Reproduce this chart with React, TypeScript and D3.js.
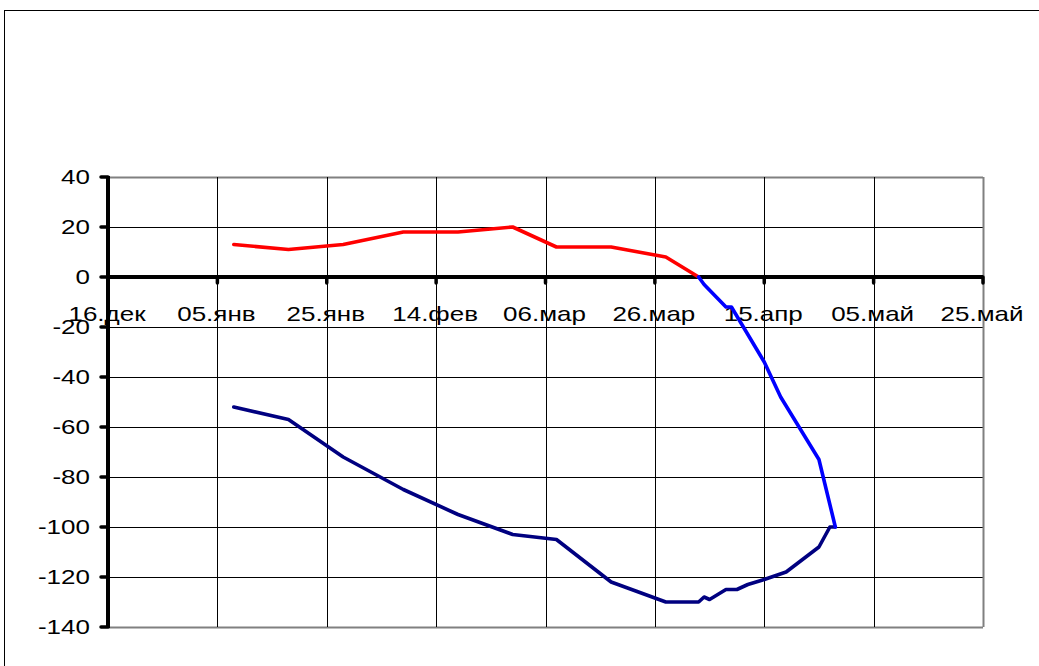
import React from "react";
import * as d3 from "d3";

// ---- data ----
const redDates = ["2005-01-08","2005-01-18","2005-01-28","2005-02-08","2005-02-18","2005-02-28","2005-03-08","2005-03-18","2005-03-28","2005-04-03"];
const redValues = [13, 11, 13, 18, 18, 20, 12, 12, 8, 0];

const blueDates = ["2005-04-03","2005-04-04","2005-04-08","2005-04-09","2005-04-12","2005-04-15","2005-04-18","2005-04-25","2005-04-26","2005-04-28"];
const blueValues = [0, -3, -12, -12, -23, -34, -48, -73, -82, -100];

const navyDates = ["2005-01-08","2005-01-18","2005-01-28","2005-02-08","2005-02-18","2005-02-28","2005-03-08","2005-03-18","2005-03-28","2005-04-03","2005-04-04","2005-04-05","2005-04-08","2005-04-10","2005-04-12","2005-04-15","2005-04-19","2005-04-25","2005-04-27","2005-04-28"];
const navyValues = [-52, -57, -72, -85, -95, -103, -105, -122, -130, -130, -128, -129, -125, -125, -123, -121, -118, -108, -100, -100];

const xStart = "2004-12-16";
const xEnd = "2005-05-25";
const xTickStepDays = 20;
const xTickLabels = ["16.дек","05.янв","25.янв","14.фев","06.мар","26.мар","15.апр","05.май","25.май"];
const yTicks = [40, 20, 0, -20, -40, -60, -80, -100, -120, -140];

const parse = (s: string) => {
  const [y, m, d] = s.split("-").map(Number);
  return new Date(Date.UTC(y, m - 1, d));
};

export default function App() {
  const W = 1039, H = 666;
  const left = 108, right = 983, top = 177, bottom = 627;
  const x = d3.scaleUtc().domain([parse(xStart), parse(xEnd)]).range([left, right]);
  const y = d3.scaleLinear().domain([-140, 40]).range([bottom, top]);
  const xTicks = d3.range(0, xTickLabels.length).map(i => d3.utcDay.offset(parse(xStart), i * xTickStepDays));

  const line = d3.line<[Date, number]>().x(d => x(d[0])).y(d => y(d[1]));
  const mk = (ds: string[], vs: number[]) => line(ds.map((s, i) => [parse(s), vs[i]] as [Date, number])) || "";

  const sx = 1.3;
  const font = "Arial, 'Liberation Sans', sans-serif";
  const fs = 20;
  const y0 = y(0);
  const lw = 3.6;

  return (
    <svg width={W} height={H} style={{ position: "absolute", left: 0, top: 0, background: "#fff" }}>
      <rect x={0} y={0} width={W} height={H} fill="#fff" />
      <rect x={4.5} y={10.5} width={1060} height={700} fill="none" stroke="#000" strokeWidth={1} />
      {/* horizontal gridlines */}
      {yTicks.map(t => (
        <line key={"h" + t} x1={left} x2={right} y1={Math.round(y(t)) + 0.5} y2={Math.round(y(t)) + 0.5}
          stroke={t === 40 || t === -140 ? "#808080" : "#000"} strokeWidth={t === 40 || t === -140 ? 2 : 1} />
      ))}
      {/* vertical gridlines */}
      {xTicks.map((d, i) => (
        <line key={"v" + i} x1={Math.round(x(d)) + 0.5} x2={Math.round(x(d)) + 0.5} y1={top} y2={bottom}
          stroke={i === xTicks.length - 1 ? "#808080" : "#000"} strokeWidth={i === xTicks.length - 1 ? 2 : 1} />
      ))}
      {/* y axis */}
      <line x1={left} x2={left} y1={top - 1} y2={bottom + 1} stroke="#000" strokeWidth={4} />
      {yTicks.map(t => (
        <line key={"yt" + t} x1={left - 7} x2={left} y1={y(t)} y2={y(t)} stroke="#000" strokeWidth={3.5} strokeLinecap="round" />
      ))}
      {yTicks.map(t => (
        <text key={"yl" + t} transform={`translate(90,${y(t) + 7}) scale(${sx},1)`} textAnchor="end"
          fontFamily={font} fontSize={fs} fill="#000">{t}</text>
      ))}
      {/* x axis at zero */}
      <line x1={left} x2={right} y1={y0} y2={y0} stroke="#000" strokeWidth={4} />
      {xTicks.map((d, i) => (
        <line key={"xt" + i} x1={x(d)} x2={x(d)} y1={y0} y2={y0 + 6} stroke="#000" strokeWidth={3.5} strokeLinecap="round" />
      ))}
      {xTicks.map((d, i) => (
        <text key={"xl" + i} transform={`translate(${x(d) - 1},${y0 + 44}) scale(${sx},1)`} textAnchor="middle"
          fontFamily={font} fontSize={fs} fill="#000">{xTickLabels[i]}</text>
      ))}
      {/* series */}
      <path d={mk(navyDates, navyValues)} fill="none" stroke="#000080" strokeWidth={lw} strokeLinejoin="round" strokeLinecap="round" />
      <path d={mk(redDates, redValues)} fill="none" stroke="#FF0000" strokeWidth={lw} strokeLinejoin="round" strokeLinecap="round" />
      <path d={mk(blueDates, blueValues)} fill="none" stroke="#0000FF" strokeWidth={lw} strokeLinejoin="round" strokeLinecap="round" />
    </svg>
  );
}
